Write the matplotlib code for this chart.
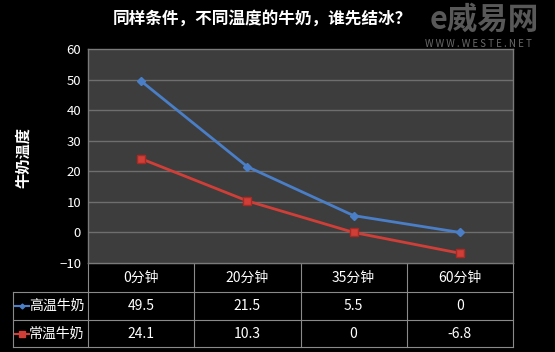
import matplotlib.pyplot as plt
from matplotlib.lines import Line2D

plt.rcParams['font.family'] = ['Noto Sans CJK SC', 'DejaVu Sans']

# --- datos ---
tiempos = ["0分钟", "20分钟", "35分钟", "60分钟"]
nombres = ["高温牛奶", "常温牛奶"]
alta = [49.5, 21.5, 5.5, 0]
normal = [24.1, 10.3, 0, -6.8]
tabla = [["49.5", "21.5", "5.5", "0"], ["24.1", "10.3", "0", "-6.8"]]
yticks = [-10, 0, 10, 20, 30, 40, 50, 60]

AZUL = '#4a7ec6'
ROJO = '#cf3f38'
GRIS = '#8a8a8a'

W, H = 555, 352
fig = plt.figure(figsize=(W / 100, H / 100), dpi=100, facecolor='black')

# capa de fondo en pixeles para tabla y textos
bg = fig.add_axes([0, 0, 1, 1])
bg.set_xlim(0, W)
bg.set_ylim(H, 0)
bg.axis('off')

x0, x1, y0, y1 = 88, 513, 49, 263
ax = fig.add_axes([x0 / W, 1 - y1 / H, (x1 - x0) / W, (y1 - y0) / H])
ax.set_facecolor('#3d3d3d')
ax.set_xlim(-0.5, 3.5)
ax.set_ylim(-10, 60)
for v in yticks[1:-1]:
    ax.axhline(v, color='#6e6e6e', lw=1, zorder=1)
for s in ax.spines.values():
    s.set_color('#7a7a7a')
    s.set_linewidth(1)
ax.set_xticks([])
ax.set_yticks(yticks)
ax.tick_params(axis='y', length=0, colors='white', labelsize=9.5, pad=5)
for lab in ax.get_yticklabels():
    lab.set_color('white')

xs = range(len(tiempos))
ax.plot(xs, alta, color=AZUL, lw=2, marker='D', ms=4, mfc=AZUL, mec=AZUL, zorder=3)
ax.plot(xs, normal, color=ROJO, lw=2, marker='s', ms=5.5, mfc=ROJO, mec='#a82a25', zorder=3)

# titulo y etiqueta
bg.text(262, 19, "同样条件，不同温度的牛奶，谁先结冰？", color='white', fontsize=12,
        fontweight='bold', ha='center', va='center')
bg.text(23, 157, "牛奶温度", color='white', fontsize=11, fontweight='bold',
        rotation=90, ha='center', va='center')

# marca de agua
bg.text(484, 20, "e威易网", color='#585858', fontsize=22, fontweight='bold',
        ha='center', va='center', zorder=0)
bg.text(478, 44, "W W W . W E S T E . N E T", color='#6a6a6a', fontsize=7,
        ha='center', va='center', zorder=0)

# tabla de datos
cols = [x0 + i * (x1 - x0) / 4 for i in range(5)]
filas = [263, 292, 320, 347]
lx = 13
for i, c in enumerate(cols):
    bg.plot([c, c], [filas[0], filas[-1]], color=GRIS, lw=0.8)
bg.plot([lx, lx], [filas[1], filas[-1]], color=GRIS, lw=0.8)
bg.plot([x0, x1], [filas[0], filas[0]], color=GRIS, lw=0.8)
for f in filas[1:]:
    bg.plot([lx, x1], [f, f], color=GRIS, lw=0.8)

for j, t in enumerate(tiempos):
    cx = (cols[j] + cols[j + 1]) / 2
    bg.text(cx, (filas[0] + filas[1]) / 2, t, color='white', fontsize=10,
            ha='center', va='center')

estilos = [(AZUL, 'D', 2.5), (ROJO, 's', 4)]
for r, nom in enumerate(nombres):
    cy = (filas[r + 1] + filas[r + 2]) / 2
    col, mk, ms = estilos[r]
    bg.add_line(Line2D([15, 29], [cy, cy], color=col, lw=1.5))
    bg.plot([22], [cy], marker=mk, ms=ms, color=col)
    bg.text(29, cy, nom, color='white', fontsize=10, ha='left', va='center')
    for j, val in enumerate(tabla[r]):
        cx = (cols[j] + cols[j + 1]) / 2
        bg.text(cx, cy, val, color='white', fontsize=10, ha='center', va='center')

fig.savefig('out.png', dpi=100, facecolor='black')
